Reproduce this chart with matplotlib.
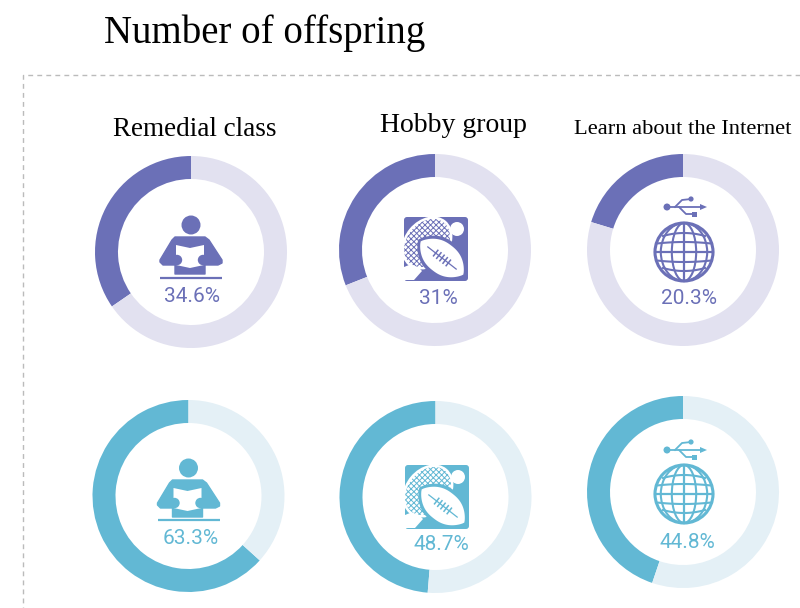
import matplotlib
matplotlib.use("Agg")
import numpy as np
import matplotlib.pyplot as plt
from matplotlib.patches import Circle, Ellipse, Polygon, FancyBboxPatch, Rectangle

plt.rcParams["hatch.linewidth"] = 0.7

W, H = 800, 608
title = "Number of offspring"
column_labels = ["Remedial class", "Hobby group", "Learn about the Internet"]
row1_values = [34.6, 31, 20.3]
row2_values = [63.3, 48.7, 44.8]
row1_labels = ["34.6%", "31%", "20.3%"]
row2_labels = ["63.3%", "48.7%", "44.8%"]

PURPLE, PURPLE_L = "#6b70b7", "#e2e1f0"
BLUE, BLUE_L = "#62b8d4", "#e4f0f6"
LABEL_FONT = "Roboto"

fig = plt.figure(figsize=(8, 6.08), dpi=100)
ax = fig.add_axes([0, 0, 1, 1])


def Y(py):
    return H - py


def donut(cx, cy, v, c, cl):
    ax.pie([v, 100 - v], colors=[c, cl], center=(cx, Y(cy)), radius=96,
           startangle=90, counterclock=True,
           wedgeprops=dict(width=23, linewidth=0))


def reader(cx, cy, c, ly):
    ax.add_patch(Circle((cx, Y(cy - 27)), 9.5, fc=c, ec="none", zorder=3))
    body = [(-16, -15), (14, -15), (18, -12), (31, 8), (31, 11), (27, 13), (14, 13),
            (14, 22), (-16, 22), (-16, 13), (-28, 13), (-31, 10), (-31, 8), (-19, -12)]
    ax.add_patch(Polygon([(cx + x, Y(cy + y)) for x, y in body], fc=c, ec=c,
                         lw=1, joinstyle="round", zorder=3))
    book = [(-15, -7), (-1, -4), (13, -7), (13, 13), (-1, 16), (-15, 13)]
    ax.add_patch(Polygon([(cx + x, Y(cy + y)) for x, y in book], fc="white", ec="none", zorder=4))
    for dx in (-14, 12):
        ax.add_patch(Circle((cx + dx, Y(cy + 8)), 5.2, fc=c, ec="none", zorder=5))
    ax.plot([cx - 31, cx + 31], [Y(ly), Y(ly)], color=c, lw=1.6, zorder=3, solid_capstyle="butt")


def lens(bx, by, length, width, deg):
    t = np.linspace(-1, 1, 61)
    prof = (1 - np.abs(t) ** 2.4) ** 0.85
    x = np.concatenate([t, t[::-1]]) * length / 2
    y = np.concatenate([prof, -prof[::-1]]) * width / 2
    a = np.radians(deg)
    return np.column_stack([bx + x * np.cos(a) - y * np.sin(a), Y(by) + x * np.sin(a) + y * np.cos(a)])


def sport(cx, cy, c):
    ax.add_patch(FancyBboxPatch((cx - 32, Y(cy + 32)), 64, 64,
                                boxstyle="round,pad=0,rounding_size=3", fc=c, ec="none", zorder=3))
    ax.add_patch(Circle((cx + 21, Y(cy - 20)), 7, fc="white", ec="none", zorder=4))
    # racket handle
    handle = [(-32, 31), (-32, 18), (-22, 14), (-14, 22), (-22, 31)]
    ax.add_patch(Polygon([(cx + x, Y(cy + y)) for x, y in handle], fc="white", ec="none", zorder=4))
    # racket head
    head = (cx - 9, Y(cy - 6))
    ax.add_patch(Ellipse(head, 58, 45, angle=50, fc="white", ec="none", zorder=4))
    ax.add_patch(Ellipse(head, 53, 40, angle=50, fc="white", ec=c, lw=0,
                         hatch="xxxxxx", zorder=5))
    # ball
    bx, by = cx + 6, cy + 9
    ax.add_patch(Polygon(lens(bx, by, 60, 38, -38), fc=c, ec="none", zorder=7))
    ax.add_patch(Polygon(lens(bx, by, 54, 31, -38), fc="white", ec="none", zorder=8))
    a = np.radians(38)
    ax.plot([bx - 18 * np.cos(a), bx + 18 * np.cos(a)],
            [Y(by - 18 * np.sin(a)), Y(by + 18 * np.sin(a))], color=c, lw=0.9, zorder=9)
    for t in (-8, -4, 0, 4, 8):
        ox, oy = t * np.cos(a), t * np.sin(a)
        ax.plot([bx + ox - 3.5 * np.sin(a), bx + ox + 3.5 * np.sin(a)],
                [Y(by + oy + 3.5 * np.cos(a)), Y(by + oy - 3.5 * np.cos(a))],
                color=c, lw=1.1, zorder=9)


def globe_usb(cx, cy, c, usb_y):
    gx, gy = cx + 1, cy + 2
    r = 29
    ax.add_patch(Circle((gx, Y(gy)), r, fc="none", ec=c, lw=2.2, zorder=3))
    for w in (r * 2 * 0.42, r * 2 * 0.8):
        ax.add_patch(Ellipse((gx, Y(gy)), w, 2 * r, fc="none", ec=c, lw=1.5, zorder=3))
    ax.plot([gx, gx], [Y(gy - r), Y(gy + r)], color=c, lw=1.6, zorder=3)
    ax.plot([gx - r, gx + r], [Y(gy), Y(gy)], color=c, lw=1.6, zorder=3)
    for lat, hw, bow in ((-19, 21, 3), (-10, 27, 1.5), (10, 27, -1.5), (19, 21, -3)):
        xs = np.linspace(-hw, hw, 25)
        ys = lat - bow * (1 - (xs / hw) ** 2) + bow
        ax.plot(gx + xs, Y(gy + ys), color=c, lw=1.5, zorder=3)
    # usb glyph
    ux = cx - 16
    lw = 1.3
    ax.plot([ux, ux + 34], [Y(usb_y), Y(usb_y)], color=c, lw=lw, zorder=3)
    ax.add_patch(Circle((ux, Y(usb_y)), 3.5, fc=c, ec="none", zorder=3))
    ax.add_patch(Polygon([(ux + 33, Y(usb_y - 3)), (ux + 33, Y(usb_y + 3)), (ux + 40, Y(usb_y))],
                         fc=c, ec="none", zorder=3))
    ax.plot([ux + 8, ux + 15, ux + 24], [Y(usb_y), Y(usb_y - 7), Y(usb_y - 8)], color=c, lw=lw, zorder=3)
    ax.add_patch(Circle((ux + 24, Y(usb_y - 8)), 2.6, fc=c, ec="none", zorder=3))
    ax.plot([ux + 12, ux + 19, ux + 26], [Y(usb_y), Y(usb_y + 7), Y(usb_y + 7)], color=c, lw=lw, zorder=3)
    ax.add_patch(Rectangle((ux + 25, Y(usb_y + 9.5)), 4.5, 5, fc=c, ec="none", zorder=3))


centers1 = [(191, 252), (435, 250), (683, 250)]
centers2 = [(188.5, 496), (435.5, 497), (683, 492)]
label_pos1 = [(192, 296), (438, 299), (689, 298)]
label_pos2 = [(191, 539), (441, 544), (687, 542)]

for (cx, cy), v in zip(centers1, row1_values):
    donut(cx, cy, v, PURPLE, PURPLE_L)
for (cx, cy), v in zip(centers2, row2_values):
    donut(cx, cy, v, BLUE, BLUE_L)

reader(191, 252, PURPLE, 278)
reader(188.5, 495, BLUE, 520)
sport(436, 249, PURPLE)
sport(437, 497, BLUE)
globe_usb(683, 250, PURPLE, 207)
globe_usb(683, 492, BLUE, 450)

for (x, y), s in zip(label_pos1, row1_labels):
    ax.text(x, Y(y), s, color=PURPLE, fontsize=15, family=LABEL_FONT, ha="center", va="center", zorder=10)
for (x, y), s in zip(label_pos2, row2_labels):
    ax.text(x, Y(y), s, color=BLUE, fontsize=15, family=LABEL_FONT, ha="center", va="center", zorder=10)

ax.text(104, Y(33), title, fontsize=28, family="Liberation Serif", ha="left", va="center", color="black")
col_pos = [(195, 129, 19.5), (453, 126, 20), (683, 130, 16.2)]
for (x, y, fs), s in zip(col_pos, column_labels):
    ax.text(x, Y(y), s, fontsize=fs, family="Liberation Serif", ha="center", va="center", color="black")

ax.plot([800, 23, 23], [Y(75), Y(75), 0], color="#bbbbbb", lw=1, ls=(0, (3.5, 3)), zorder=1)

ax.set_xlim(0, W)
ax.set_ylim(0, H)
ax.set_aspect("auto")
ax.axis("off")
fig.savefig("out.png", dpi=100)
